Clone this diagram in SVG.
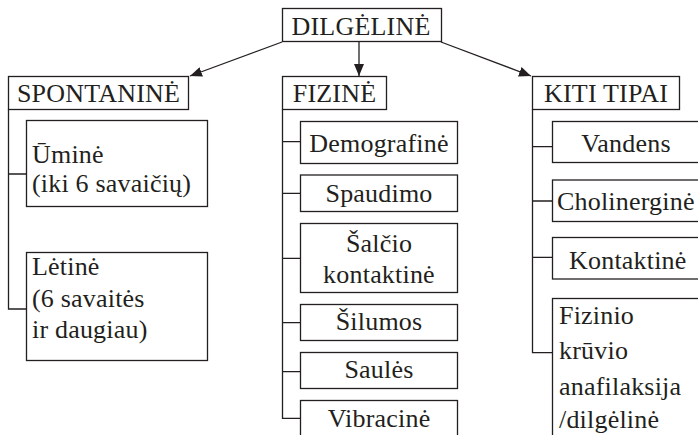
<svg xmlns="http://www.w3.org/2000/svg" width="698" height="435" viewBox="0 0 698 435">
<defs>
<style>
rect{fill:#fff;stroke:#231f20;stroke-width:1.3}
.c line,.c path{stroke:#231f20;stroke-width:1.3;fill:none}
text{font-family:"Liberation Serif","Times New Roman",serif;font-size:26px;fill:#231f20;letter-spacing:0.2px}
.m{text-anchor:middle}
</style>
<marker id="ah" viewBox="0 0 12 10" refX="12" refY="5" markerWidth="12" markerHeight="10" markerUnits="userSpaceOnUse" orient="auto">
<path d="M0,0 L12,5 L0,10 Z" fill="#231f20"/>
</marker>
</defs>
<rect x="0" y="0" width="698" height="435" style="fill:#fff;stroke:none"/>
<g class="c" id="connectors">
<line x1="282" y1="42" x2="190" y2="76" marker-end="url(#ah)"/>
<line x1="359" y1="42" x2="359" y2="76" marker-end="url(#ah)"/>
<line x1="441" y1="42" x2="531" y2="76" marker-end="url(#ah)"/>
<path d="M8.5,109.5 V309 H26.5 M8.5,174 H26.5"/>
<path d="M282.5,109.5 V418.3 H300.5 M282.5,141.7 H300.5 M282.5,193.3 H300.5 M282.5,258.3 H300.5 M282.5,322.7 H300.5 M282.5,371.7 H300.5"/>
<path d="M532.5,109.5 V352.7 H552.5 M532.5,146.7 H552.5 M532.5,201 H552.5 M532.5,257.3 H552.5"/>
</g>
<g id="dilgeline"><rect x="282.5" y="8.5" width="159" height="33"/><text class="m" x="361" y="35">DILGĖLINĖ</text></g>
<g id="spontanine"><rect x="8.5" y="76.5" width="180" height="33"/><text class="m" x="98.5" y="101.5">SPONTANINĖ</text></g>
<g id="fizine"><rect x="282.5" y="76.5" width="104" height="33"/><text class="m" x="334.5" y="101.5">FIZINĖ</text></g>
<g id="kiti"><rect x="532.5" y="76.5" width="147" height="33"/><text class="m" x="606" y="101.5">KITI TIPAI</text></g>
<g id="umine"><rect x="26.5" y="120.5" width="181" height="86"/><text x="32" y="162.5">Ūminė</text><text x="32" y="191.5">(iki 6 savaičių)</text></g>
<g id="letine"><rect x="26.5" y="252.5" width="181" height="108"/><text x="32" y="275">Lėtinė</text><text x="32" y="306.7">(6 savaitės</text><text x="32" y="338.3">ir daugiau)</text></g>
<g id="demografine"><rect x="300.5" y="121.5" width="157" height="42"/><text class="m" x="379" y="152">Demografinė</text></g>
<g id="spaudimo"><rect x="300.5" y="175" width="157" height="36.5"/><text class="m" x="379" y="201.5">Spaudimo</text></g>
<g id="salcio"><rect x="300.5" y="223.5" width="157" height="69"/><text class="m" x="379" y="252">Šalčio</text><text class="m" x="379" y="283">kontaktinė</text></g>
<g id="silumos"><rect x="300.5" y="304.5" width="157" height="36"/><text class="m" x="379" y="330">Šilumos</text></g>
<g id="saules"><rect x="300.5" y="352.5" width="157" height="36"/><text class="m" x="379" y="378">Saulės</text></g>
<g id="vibracine"><rect x="300.5" y="400.5" width="157" height="50"/><text class="m" x="379" y="427">Vibracinė</text></g>
<g id="vandens"><rect x="552.5" y="121.5" width="160" height="41"/><text class="m" x="626" y="151.7">Vandens</text></g>
<g id="cholinergine"><rect x="552.5" y="180" width="160" height="41.5"/><text x="557" y="209.5">Cholinerginė</text></g>
<g id="kontaktine"><rect x="552.5" y="237.5" width="160" height="41.5"/><text x="569" y="268.5">Kontaktinė</text></g>
<g id="fizinio"><rect x="552.5" y="298.5" width="160" height="150"/><text x="559" y="324">Fizinio</text><text x="559" y="358.5">krūvio</text><text x="559" y="395">anafilaksija</text><text x="559" y="428">/dilgėlinė</text></g>
</svg>
